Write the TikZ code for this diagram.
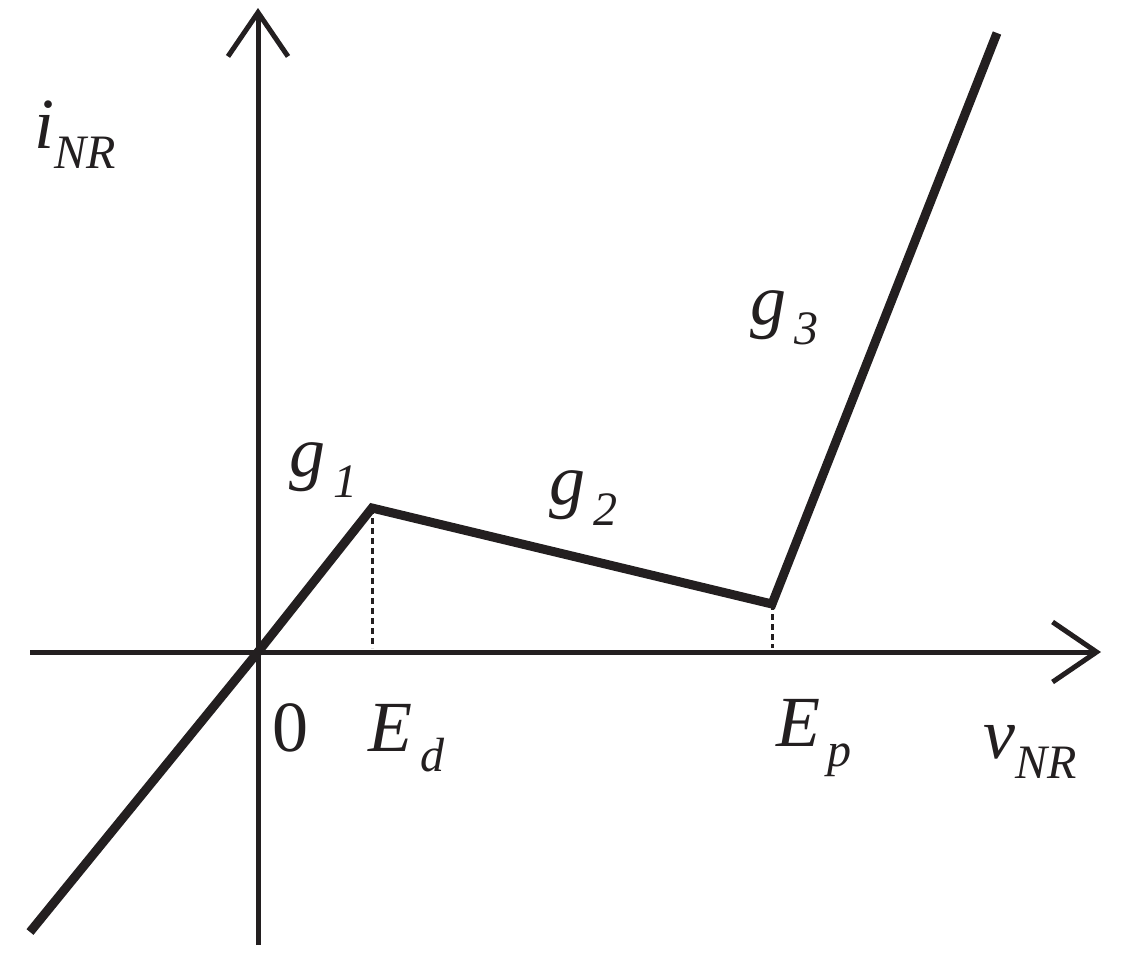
\documentclass[tikz,border=0pt]{standalone}
\usepackage{fontspec}
\setmainfont{Liberation Serif}
\usetikzlibrary{arrows.meta}
\definecolor{ink}{RGB}{35,31,32}
\newcommand{\lab}[2]{\textit{#1}\raisebox{-0.28em}{\fontsize{48}{50}\selectfont\textit{#2}}}
\begin{document}
\begin{tikzpicture}[x=1pt,y=-1pt,
  axis/.style={line width=5pt,draw=ink,-{Straight Barb[length=44pt,width=60pt,line width=5pt]}},
  curve/.style={line width=9pt,draw=ink,line join=miter},
  guide/.style={line width=3pt,draw=ink,dash pattern=on 6pt off 4pt},
  txt/.style={text=ink,font=\fontsize{72}{76}\selectfont,inner sep=0pt}]
\useasboundingbox (0,0) rectangle (1125,978);
\coordinate (o) at (258,652);
\coordinate (a) at (30,932);
\coordinate (b) at (372,508);
\coordinate (c) at (772,604);
\coordinate (d) at (997,33);
\coordinate (xs) at (30,652); \coordinate (xe) at (1101,652);
\coordinate (ys) at (258,945); \coordinate (ye) at (258,8);
\coordinate (bx) at (372,648); \coordinate (cx) at (772,648);
\draw[axis] (xs) -- (xe);
\draw[axis] (ys) -- (ye);
\draw[guide] (b) -- (bx);
\draw[guide] (c) -- (cx);
\draw[curve] (a) -- (o) -- (b) -- (c) -- (d);
\node[txt] (iy) at (75,135) {\lab{i}{NR}};
\node[txt] (g1) at (323,470) {\lab{g}{\,1}};
\node[txt] (g2) at (583,498) {\lab{g}{\,2}};
\node[txt] (g3) at (784,318) {\lab{g}{\,3}};
\node[txt] (z) at (290,728) {0};
\node[txt] (ed) at (407,738) {\lab{E}{\,d}};
\node[txt] (ep) at (814,738) {\lab{E}{\,p}};
\node[txt] (vx) at (1030,752) {\lab{v}{NR}};
\end{tikzpicture}
\end{document}
